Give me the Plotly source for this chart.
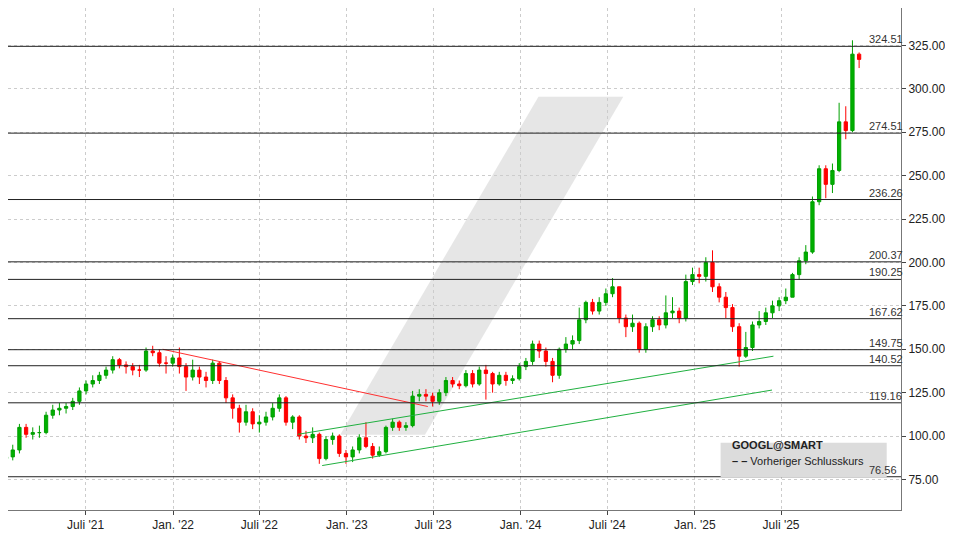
import pandas as pd
import plotly.graph_objects as go

# biweekly candles
dates = pd.date_range("2021-01-15", periods=129, freq="14D")

closes = [88,92,105,101,102,102,112,115,116,117,120,126,130,132,135,138,144,141,140,138,138,149,148,142,142,145,
          140,134,138,134,132,142,132,122,116,108,114,107,108,111,116,122,108,111,100,99,101,87,98,100,90,88,
          92,99,94,89,91,105,108,105,106,123,124,123,120,125,132,130,129,136,130,138,136,130,135,132,133,140,
          143,153,149,143,135,150,153,155,167,177,172,177,182,186,168,163,165,150,163,167,164,171,172,168,189,193,
          192,200,186,180,174,163,146,151,164,166,171,175,178,180,193,201,206,235,254,245,253,281,276,320,317]
opens = [87] + closes[:-1]
highs = [90,95,107,107,105,106,114,118,119,119,122,128,132,135,137,140,146,145,143,142,141,151,152,150,146,147,
         151,142,144,140,137,144,143,134,124,118,118,116,112,114,119,124,123,112,112,103,105,102,100,102,101,92,
         94,101,108,96,94,106,110,109,108,126,127,127,125,127,134,134,132,138,138,140,141,137,137,137,135,142,
         145,155,155,151,145,151,157,158,174,178,179,180,185,191,186,170,170,166,165,169,169,181,180,174,193,197,
         197,203,207,188,183,176,165,160,166,172,174,178,180,185,194,203,210,238,256,256,257,292,290,328,321]
lows = [85,86,90,99,98,99,101,110,112,113,115,118,124,128,130,133,136,139,136,135,134,137,146,140,136,140,
        136,126,132,130,128,130,130,119,110,102,106,104,102,106,109,114,106,104,98,96,96,84,86,95,88,84,
        85,90,93,87,88,90,103,103,103,105,120,120,117,118,123,128,127,128,128,129,121,125,129,129,130,132,
        138,141,145,140,131,133,148,150,153,165,170,170,175,180,165,157,160,148,148,160,161,162,168,165,166,187,
        188,189,183,177,168,160,140,145,149,162,164,168,172,176,180,190,199,205,233,237,240,252,271,275,312]

levels = [324.51, 274.51, 236.26, 200.37, 190.25, 167.62, 149.75, 140.52, 119.16, 76.56]

red_line_x = ["2021-12-10", "2023-06-20"]
red_line_y = [150, 117]
green_up_x = ["2022-09-20", "2025-06-15"]
green_up_y = [101, 146]
green_lo_x = ["2022-11-10", "2025-06-12"]
green_lo_y = [83, 126.5]

tick_dates = ["2021-07-01", "2022-01-01", "2022-07-01", "2023-01-01", "2023-07-01",
              "2024-01-01", "2024-07-01", "2025-01-01", "2025-07-01"]
tick_text = ["Juli '21", "Jan. '22", "Juli '22", "Jan. '23", "Juli '23",
             "Jan. '24", "Juli '24", "Jan. '25", "Juli '25"]

fig = go.Figure()

fig.add_trace(go.Candlestick(
    x=dates, open=opens, high=highs, low=lows, close=closes,
    increasing=dict(line=dict(color="#00a000", width=1), fillcolor="#00b000"),
    decreasing=dict(line=dict(color="#ff0000", width=1), fillcolor="#ff0000"),
    whiskerwidth=0, showlegend=False,
))

for xs, ys, col in [(red_line_x, red_line_y, "#ff3030"),
                    (green_up_x, green_up_y, "#20b040"),
                    (green_lo_x, green_lo_y, "#20b040")]:
    fig.add_trace(go.Scatter(x=xs, y=ys, mode="lines", line=dict(color=col, width=1),
                             showlegend=False, hoverinfo="skip"))

# watermark
fig.add_shape(type="path", xref="paper", yref="paper", layer="below",
              path="M 0.372 0.15 L 0.467 0.15 L 0.689 0.823 L 0.594 0.823 Z",
              fillcolor="rgba(200,200,200,0.45)", line=dict(width=0))

for lv in levels:
    fig.add_shape(type="line", xref="paper", x0=0, x1=1, y0=lv, y1=lv,
                  line=dict(color="#222", width=1))
    fig.add_annotation(xref="paper", x=0.962, y=lv, text=f"{lv:.2f}", showarrow=False,
                       xanchor="left", yanchor="bottom", yshift=-1,
                       font=dict(size=11, color="#333"))

# legend box
fig.add_shape(type="rect", xref="paper", yref="paper", x0=0.798, x1=0.984, y0=0.065, y1=0.134,
              fillcolor="#dcdcdc", line=dict(width=0))
fig.add_annotation(xref="paper", yref="paper", x=0.808, y=0.113, text="<b>GOOGL@SMART</b>",
                   showarrow=False, xanchor="left", font=dict(size=11, color="#222"))
fig.add_annotation(xref="paper", yref="paper", x=0.808, y=0.082, text="<b>– –</b> Vorheriger Schlusskurs",
                   showarrow=False, xanchor="left", font=dict(size=11, color="#222"))

fig.update_layout(
    width=953, height=536, margin=dict(l=0, r=60, t=0, b=34),
    paper_bgcolor="white", plot_bgcolor="white",
    font=dict(family="Liberation Sans, Arial", size=12, color="#222"),
    xaxis=dict(range=["2021-01-19", "2026-03-10"], rangeslider=dict(visible=False),
               tickvals=tick_dates, ticktext=tick_text, ticks="outside", ticklen=4,
               showgrid=True, gridcolor="#ccc", griddash="dot", gridwidth=1,
               showline=True, linecolor="#777", mirror=True, tickfont=dict(size=12)),
    yaxis=dict(range=[57.4, 346.6], side="right", tickvals=[75, 100, 125, 150, 175, 200, 225, 250, 275, 300, 325],
               tickformat=".2f", ticks="outside", ticklen=4,
               showgrid=True, gridcolor="#ccc", griddash="dot", gridwidth=1,
               showline=True, linecolor="#777", mirror=True, tickfont=dict(size=12)),
)

fig.write_html("out.html")
